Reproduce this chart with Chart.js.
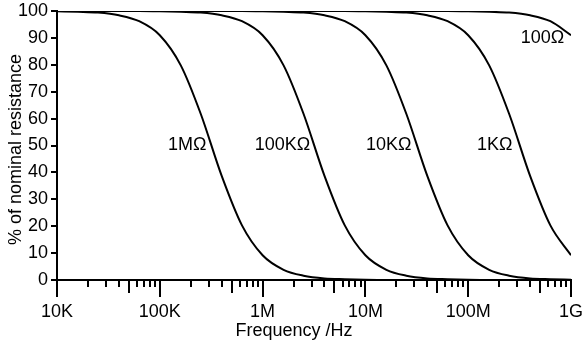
<!DOCTYPE html>
<html>
<head>
<meta charset="utf-8">
<script src="https://cdn.jsdelivr.net/npm/chart.js@4/dist/chart.umd.min.js"></script>
<style>
  body { margin: 0; background: #fff; }
  canvas { display: block; }
</style>
</head>
<body>
<canvas id="resChart" width="586" height="345"></canvas>
<script>
// frequency points (Hz), roughly 5 per decade
const freqs = [
  1e4, 1.6e4, 2.5e4, 4e4, 6.3e4,
  1e5, 1.6e5, 2.5e5, 4e5, 6.3e5,
  1e6, 1.6e6, 2.5e6, 4e6, 6.3e6,
  1e7, 1.6e7, 2.5e7, 4e7, 6.3e7,
  1e8, 1.6e8, 2.5e8, 4e8, 6.3e8,
  1e9
];

// % of nominal resistance
const r1M = [99.9, 99.7, 99.4, 98.4, 96.2, 91.0, 79.8, 61.8, 38.7, 20.3, 9.2, 3.8, 1.6, 0.6, 0.3, 0.1, 0, 0, 0, 0, 0, 0, 0, 0, 0, 0];
const r100K = [100, 100, 100, 100, 100, 99.9, 99.7, 99.4, 98.4, 96.2, 91.0, 79.8, 61.8, 38.7, 20.3, 9.2, 3.8, 1.6, 0.6, 0.3, 0.1, 0, 0, 0, 0, 0];
const r10K = [100, 100, 100, 100, 100, 100, 100, 100, 100, 100, 99.9, 99.7, 99.4, 98.4, 96.2, 91.0, 79.8, 61.8, 38.7, 20.3, 9.2, 3.8, 1.6, 0.6, 0.3, 0.1];
const r1K = [100, 100, 100, 100, 100, 100, 100, 100, 100, 100, 100, 100, 100, 100, 100, 99.9, 99.7, 99.4, 98.4, 96.2, 91.0, 79.8, 61.8, 38.7, 20.3, 9.2];
const r100 = [100, 100, 100, 100, 100, 100, 100, 100, 100, 100, 100, 100, 100, 100, 100, 100, 100, 100, 100, 100, 99.9, 99.7, 99.4, 98.4, 96.2, 91.0];

const seriesNames = ['1MΩ', '100KΩ', '10KΩ', '1KΩ', '100Ω'];
const seriesValues = [r1M, r100K, r10K, r1K, r100];

// curve labels: text, anchor frequency, anchor value (right edge of text)
const labelText = ['1MΩ', '100KΩ', '10KΩ', '1KΩ', '100Ω'];
const labelFreq = [2.85e5, 2.9e6, 2.8e7, 2.7e8, 8.6e8];
const labelValue = [50, 50, 50, 50, 90];

const xTickValues = [1e4, 1e5, 1e6, 1e7, 1e8, 1e9];
const xTickLabels = ['10K', '100K', '1M', '10M', '100M', '1G'];

const xTitle = 'Frequency /Hz';
const yTitle = '% of nominal resistance';

const FONT = 'Arial, "Liberation Sans", Helvetica, sans-serif';

// x tick marks (decades long, 5x medium, others short), curve labels, axis titles
const extrasPlugin = {
  id: 'extras',
  afterDraw(chart) {
    const ctx = chart.ctx;
    const x = chart.scales.x;
    const y = chart.scales.y;
    const area = chart.chartArea;
    const base = area.bottom;
    ctx.save();
    ctx.strokeStyle = '#000';
    ctx.lineWidth = 2;
    ctx.beginPath();
    for (let d = 1e4; d <= 1e9; d *= 10) {
      const px = Math.round(x.getPixelForValue(d));
      ctx.moveTo(px, base);
      ctx.lineTo(px, base + 17);
      if (d === 1e9) break;
      for (let m = 2; m <= 9; m++) {
        const p = Math.round(x.getPixelForValue(d * m));
        ctx.moveTo(p, base);
        ctx.lineTo(p, base + (m === 5 ? 13 : 7));
      }
    }
    ctx.stroke();

    ctx.fillStyle = '#000';
    ctx.font = '18px ' + FONT;
    ctx.textAlign = 'right';
    ctx.textBaseline = 'middle';
    labelText.forEach((t, i) => {
      ctx.fillText(t, x.getPixelForValue(labelFreq[i]), y.getPixelForValue(labelValue[i]));
    });

    // axis titles (the x title sits a bit left of centre in the original)
    ctx.textAlign = 'center';
    ctx.textBaseline = 'alphabetic';
    ctx.fillText(xTitle, (area.left + area.right) / 2 - 20, 336);
    ctx.translate(21, (area.top + area.bottom) / 2 + 4);
    ctx.rotate(-Math.PI / 2);
    ctx.fillText(yTitle, 0, 0);
    ctx.restore();
  }
};

const ctx = document.getElementById('resChart').getContext('2d');
new Chart(ctx, {
  type: 'line',
  data: {
    datasets: seriesNames.map((name, i) => ({
      label: name,
      data: freqs.map((f, j) => ({ x: f, y: seriesValues[i][j] })),
      borderColor: '#000',
      borderWidth: 2,
      pointRadius: 0,
      fill: false,
      cubicInterpolationMode: 'monotone'
    }))
  },
  options: {
    responsive: false,
    animation: false,
    layout: { padding: { left: 0, right: 15, top: 11, bottom: 0 } },
    plugins: {
      legend: { display: false },
      tooltip: { enabled: false }
    },
    scales: {
      x: {
        type: 'logarithmic',
        min: 1e4,
        max: 1e9,
        afterBuildTicks: scale => {
          scale.ticks = xTickValues.map(v => ({ value: v }));
        },
        afterFit: scale => {
          scale.height = 65;
          scale.paddingLeft = 0;
          scale.paddingRight = 0;
        },
        grid: { display: false, drawTicks: false },
        border: { display: true, color: '#000', width: 2 },
        ticks: {
          autoSkip: false,
          maxRotation: 0,
          padding: 21,
          color: '#000',
          font: { family: FONT, size: 18 },
          callback: v => xTickLabels[xTickValues.indexOf(v)] || ''
        }
      },
      y: {
        min: 0,
        max: 100,
        afterFit: scale => {
          scale.width = 57;
          scale.paddingTop = 0;
          scale.paddingBottom = 0;
        },
        grid: { drawOnChartArea: false, drawTicks: true, tickLength: 6, color: '#000', lineWidth: 2 },
        border: { display: true, color: '#000', width: 2 },
        ticks: {
          stepSize: 10,
          padding: 3,
          color: '#000',
          font: { family: FONT, size: 18 }
        }
      }
    }
  },
  plugins: [extrasPlugin]
});
</script>
</body>
</html>
